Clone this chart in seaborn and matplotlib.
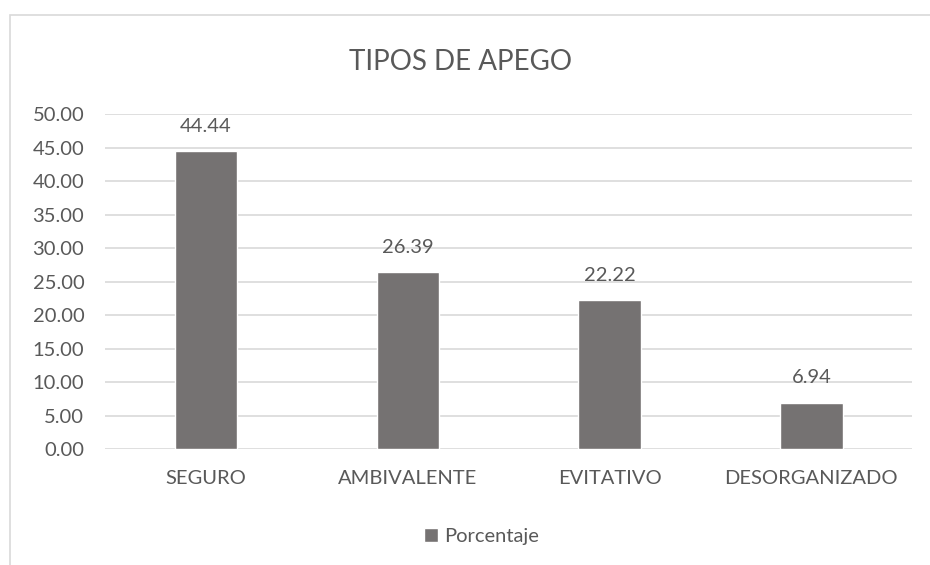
import matplotlib
matplotlib.use('Agg')
import matplotlib.pyplot as plt
import seaborn as sns
import pandas as pd
from matplotlib.patches import Rectangle

tipos = ['SEGURO', 'AMBIVALENTE', 'EVITATIVO', 'DESORGANIZADO']
porcentaje = [44.44, 26.39, 22.22, 6.94]
ticks = [0, 5, 10, 15, 20, 25, 30, 35, 40, 45, 50]

sns.set_style('white')
plt.rcParams['font.family'] = ['Lato', 'DejaVu Sans']

txt = '#595959'
bar_color = '#767171'

df = pd.DataFrame({'Tipo': tipos, 'Porcentaje': porcentaje})

fig = plt.figure(figsize=(9.3, 5.65), dpi=100)
ax = fig.add_axes([0.113, 0.205, 0.868, 0.593])

sns.barplot(data=df, x='Tipo', y='Porcentaje', color=bar_color, width=0.31,
            label='Porcentaje', legend=False, ax=ax, zorder=3)
if ax.get_legend() is not None:
    ax.get_legend().remove()

ax.set_ylim(0, 50)
ax.set_yticks(ticks)
ax.set_yticklabels([f'{t:.2f}' for t in ticks])
ax.grid(axis='y', color='#d9d9d9', linewidth=1.2, zorder=0)
ax.set_xlim(-0.5, 3.5)
for s in ax.spines.values():
    s.set_visible(False)
ax.set_xlabel('')
ax.set_ylabel('')
ax.tick_params(axis='both', length=0, labelsize=14.5, colors=txt)
ax.tick_params(axis='x', pad=15)
ax.tick_params(axis='y', pad=15)

ax.bar_label(ax.containers[0], fmt='%.2f', padding=12, fontsize=14.5, color=txt)

fig.text(0.495, 0.89, 'TIPOS DE APEGO', ha='center', va='center',
         fontsize=20, color=txt)

h, l = ax.get_legend_handles_labels()
fig.legend(h[:1], l[:1], loc='center', bbox_to_anchor=(0.518, 0.05), frameon=False,
           fontsize=14.5, labelcolor=txt, handlelength=0.7, handleheight=0.7,
           handletextpad=0.3)

# chart frame
fig.patches.append(Rectangle((10 / 930, -0.1), 1.2, 1 - 15 / 565 + 0.1,
                             transform=fig.transFigure, fill=False,
                             edgecolor='#d9d9d9', linewidth=1.2))

fig.savefig('out.png', dpi=100)
